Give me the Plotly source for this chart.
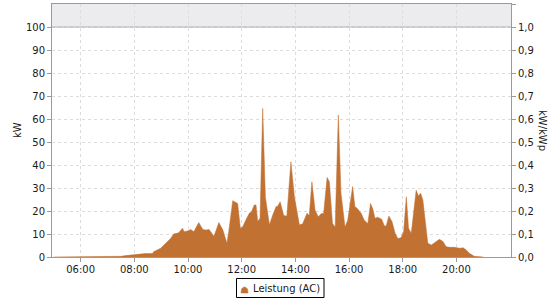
import plotly.graph_objects as go

day = "2023-06-01 "
times = ["05:00","07:20","07:30","07:41","08:00","08:03","08:25","08:41","08:43","08:59",
         "09:10","09:21","09:28","09:39","09:48","09:51","09:59","10:06","10:13","10:24",
         "10:33","10:40","10:47","10:53","10:58","11:09","11:18","11:27","11:31","11:40",
         "11:51","11:57","12:02","12:09","12:17","12:22","12:28","12:32","12:36","12:41",
         "12:47","12:53","13:02","13:09","13:17","13:20","13:26","13:34","13:41","13:50",
         "13:58","14:09","14:16","14:26","14:31","14:37","14:44","14:51","14:59","15:03",
         "15:11","15:16","15:20","15:23","15:29","15:36","15:42","15:51","15:57","16:05",
         "16:08","16:13","16:19","16:27","16:34","16:42","16:48","16:53","16:58","17:04",
         "17:13","17:19","17:23","17:29","17:36","17:43","17:49","17:56","18:02","18:08",
         "18:13","18:19","18:25","18:30","18:35","18:40","18:45","18:50","18:56","19:04",
         "19:15","19:22","19:30","19:37","19:45","19:56","20:07","20:15","20:22","20:29",
         "20:40","20:52","21:00"]
leistung_kw = [0, 0, 0.3, 0.6, 1.0, 1.3, 1.5, 1.5, 2.3, 3.8,
               6, 8, 10, 10.5, 12.5, 11, 11.3, 12, 11, 15,
               12, 11.7, 12, 10.3, 9, 15, 11.7, 6, 11, 24.5,
               23.3, 12.5, 13, 16, 19, 19.7, 22.6, 22.6, 15.4, 16.8,
               64.6, 26, 14, 18, 22, 22, 24, 18, 17.8, 41.4,
               26, 14, 14.3, 19, 18, 32.7, 20.4, 17.5, 19, 18.7,
               34.6, 32.7, 23, 14.6, 13, 61.7, 27.7, 13, 16, 28.4,
               30.6, 22, 21, 19, 16, 14.6, 23.3, 21, 16.8, 17.3,
               16.4, 13.5, 13.5, 17.8, 15.4, 10.3, 8, 8.4, 11, 26.2,
               12.5, 10.3, 22, 29, 26.5, 27.7, 24.8, 16, 6, 5.2,
               6.7, 7.7, 6.7, 4.5, 4.2, 4.2, 3.8, 4, 3, 1.6,
               0.3, 0, 0]
kwp = 100.0
x_ticks = ["06:00", "08:00", "10:00", "12:00", "14:00", "16:00", "18:00", "20:00"]
left_ticks = [0, 10, 20, 30, 40, 50, 60, 70, 80, 90, 100]
right_ticks = [0.0, 0.1, 0.2, 0.3, 0.4, 0.5, 0.6, 0.7, 0.8, 0.9, 1.0, 1.1]
series_name = "Leistung (AC)"

x = [day + t for t in times]
fill_color = "rgb(193,113,50)"
font = dict(family="DejaVu Sans", size=10, color="#1a1a1a")

fig = go.Figure()
fig.add_trace(go.Scatter(
    x=x, y=leistung_kw, mode="lines", name=series_name,
    fill="tozeroy", fillcolor=fill_color,
    line=dict(color=fill_color, width=0.5, shape="linear"),
    showlegend=False,
))
fig.add_trace(go.Scatter(
    x=x, y=[v / kwp for v in leistung_kw], yaxis="y2", mode="lines",
    line=dict(width=0, color="rgba(0,0,0,0)"), showlegend=False, hoverinfo="skip",
))

# geometry helpers (plot area in pixels) for the hand-drawn legend box
W, H = 560, 300
ml, mr, mt, mb = 52, 49, 4, 43
pw, ph = W - ml - mr, H - mt - mb
def px(v):
    return (v - ml) / pw
def py(v):
    return (H - mb - v) / ph

icon = "M {} {} L {} {} Q {} {} {} {} L {} {} Z".format(
    px(241), py(293), px(241.5), py(289),
    px(244.5), py(285), px(247.5), py(289),
    px(248), py(293))

grid = "#dcdcdc"
axcol = "#9a9a9a"
fig.update_layout(
    width=W, height=H,
    margin=dict(l=ml, r=mr, t=mt, b=mb, autoexpand=False),
    paper_bgcolor="white", plot_bgcolor="white",
    font=font, separators=",.",
    showlegend=False,
    xaxis=dict(type="date", range=[day + "04:56", day + "22:02"],
               tickvals=[day + t for t in x_ticks], ticktext=x_ticks,
               showgrid=True, gridcolor=grid, griddash="3px,3px", gridwidth=1,
               showline=True, linecolor=axcol, linewidth=1, mirror=True,
               ticks="outside", ticklen=4, tickcolor=axcol, zeroline=False,
               ticklabelstandoff=-1),
    yaxis=dict(range=[0, 110], tickvals=left_ticks,
               showgrid=True, gridcolor=grid, griddash="3px,3px", gridwidth=1,
               showline=True, linecolor=axcol, linewidth=1,
               ticks="outside", ticklen=4, tickcolor=axcol, zeroline=False),
    yaxis2=dict(range=[0, 1.1], tickvals=right_ticks, tickformat=".1f",
                overlaying="y", side="right", showgrid=False,
                showline=True, linecolor=axcol, linewidth=1,
                ticks="outside", ticklen=4, tickcolor=axcol, zeroline=False),
    shapes=[
        dict(type="rect", xref="paper", yref="y", x0=0, x1=1, y0=100, y1=110,
             fillcolor="#ecebee", line=dict(width=0), layer="below"),
        dict(type="line", xref="paper", yref="y", x0=0, x1=1, y0=100, y1=100,
             line=dict(color="#b0b0b0", width=1), layer="above"),
        dict(type="rect", xref="paper", yref="paper",
             x0=px(236.5), x1=px(324), y0=py(297.5), y1=py(278.5),
             fillcolor="white", line=dict(color="black", width=1)),
        dict(type="path", xref="paper", yref="paper", path=icon,
             fillcolor=fill_color, line=dict(color=fill_color, width=0.5)),
    ],
    annotations=[
        dict(text="kW", xref="paper", yref="paper", x=px(17), y=py(130),
             xanchor="center", yanchor="middle",
             showarrow=False, textangle=-90, font=font),
        dict(text="kW/kWp", xref="paper", yref="paper", x=px(543), y=py(130),
             xanchor="center", yanchor="middle",
             showarrow=False, textangle=90, font=font),
        dict(text=series_name, xref="paper", yref="paper", x=px(251), y=py(288.5),
             xanchor="left", yanchor="middle", showarrow=False, font=font),
    ],
)

fig.write_html("out.html")
